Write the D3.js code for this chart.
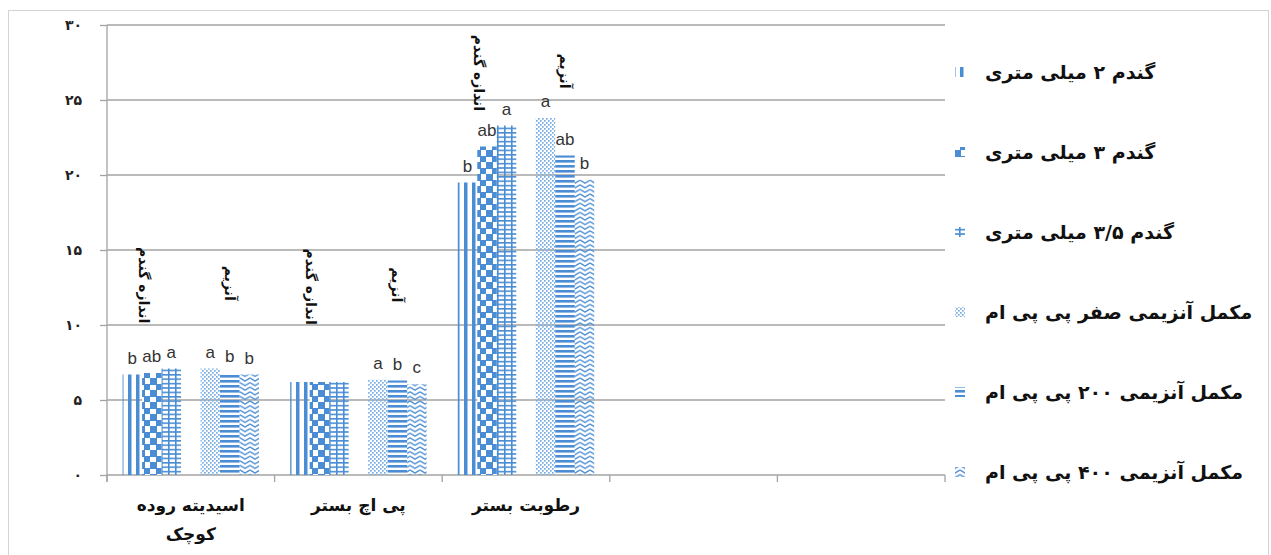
<!DOCTYPE html>
<html lang="fa">
<head>
<meta charset="utf-8">
<title>اثر اندازه گندم و مکمل آنزیمی</title>
<script src="https://cdn.jsdelivr.net/npm/d3@7/dist/d3.min.js"></script>
<style>
  html, body { margin: 0; padding: 0; background: #fff; }
  svg { display: block; }
</style>
</head>
<body>
<svg id="chart" width="1271" height="555"></svg>
<script>
// Categories on the x axis (the last two slots are left empty)
const categories = ["اسیدیته روده کوچک", "پی اچ بستر", "رطوبت بستر", "", ""];
const categoryLines = [["اسیدیته روده", "کوچک"], ["پی اچ بستر"], ["رطوبت بستر"], [], []];

// Series names
const seriesNames = [
  "گندم ۲ میلی متری",
  "گندم ۳ میلی متری",
  "گندم ۳/۵ میلی متری",
  "مکمل آنزیمی  صفر پی پی ام",
  "مکمل آنزیمی ۲۰۰ پی پی ام",
  "مکمل آنزیمی ۴۰۰ پی پی ام"
];

// Series values per category
const wheat2mm   = [6.7, 6.2, 19.5];
const wheat3mm   = [6.8, 6.2, 21.9];
const wheat35mm  = [7.1, 6.2, 23.3];
const enzyme0    = [7.1, 6.35, 23.8];
const enzyme200  = [6.8, 6.3, 21.3];
const enzyme400  = [6.7, 6.05, 19.7];

// Significance letters per series and category
const wheat2mmLetters  = ["b", "", "b"];
const wheat3mmLetters  = ["ab", "", "ab"];
const wheat35mmLetters = ["a", "", "a"];
const enzyme0Letters   = ["a", "a", "a"];
const enzyme200Letters = ["b", "b", "ab"];
const enzyme400Letters = ["b", "c", "b"];

// Y axis ticks
const yTicks = [0, 5, 10, 15, 20, 25, 30];
const yTickLabels = ["۰", "۵", "۱۰", "۱۵", "۲۰", "۲۵", "۳۰"];

// Group captions and the value level at which each category's captions sit
const groupCaptionText = ["اندازه گندم", "آنزیم"];
const groupCaptionLevel = [12.65, 12.55, 26.8];

const seriesValues = [wheat2mm, wheat3mm, wheat35mm, enzyme0, enzyme200, enzyme400];
const seriesLetters = [wheat2mmLetters, wheat3mmLetters, wheat35mmLetters,
                       enzyme0Letters, enzyme200Letters, enzyme400Letters];
// Slot order inside each cluster: an empty slot separates the two factors
const slots = ["s0", "s1", "s2", "gap", "s3", "s4", "s5"];

const svg = d3.select("#chart");
const plot = { left: 107, right: 945, top: 25, bottom: 475 };
const BLUE = "#4a8dd4";
const GRID = "#a3a3a3";
const FA_FONT = "'DejaVu Sans', sans-serif";

// Outer frame
svg.append("rect")
  .attr("x", 8.5).attr("y", 10.5)
  .attr("width", 1260).attr("height", 560)
  .attr("fill", "#fff").attr("stroke", "#d4d4d4").attr("stroke-width", 1);

// Fill patterns
const defs = svg.append("defs");
function pattern(id, w, h) {
  return defs.append("pattern").attr("id", id)
    .attr("patternUnits", "userSpaceOnUse")
    .attr("width", w).attr("height", h);
}
// vertical stripes
pattern("pat0", 8, 8).append("rect").attr("x", 0).attr("y", 0)
  .attr("width", 3.5).attr("height", 8).attr("fill", BLUE);
// checkerboard
{
  const p = pattern("pat1", 12, 12);
  p.append("rect").attr("width", 12).attr("height", 12).attr("fill", "#fff");
  p.append("rect").attr("x", 0).attr("y", 0).attr("width", 6).attr("height", 6).attr("fill", BLUE);
  p.append("rect").attr("x", 6).attr("y", 6).attr("width", 6).attr("height", 6).attr("fill", BLUE);
  p.append("rect").attr("x", 0).attr("y", 0).attr("width", 12).attr("height", 1).attr("fill", BLUE);
  p.append("rect").attr("x", 0).attr("y", 0).attr("width", 1).attr("height", 12).attr("fill", BLUE);
}
// grid (dense horizontals crossed by verticals)
{
  const p = pattern("pat2", 7, 4.4);
  p.append("rect").attr("x", 0).attr("y", 0).attr("width", 7).attr("height", 1.6).attr("fill", BLUE);
  p.append("rect").attr("x", 0).attr("y", 0).attr("width", 1.6).attr("height", 4.4).attr("fill", BLUE);
}
// light dots
{
  const p = pattern("pat3", 4, 4);
  p.append("rect").attr("x", 0).attr("y", 0).attr("width", 1.7).attr("height", 1.7).attr("fill", "#78aee4");
  p.append("rect").attr("x", 2).attr("y", 2).attr("width", 1.7).attr("height", 1.7).attr("fill", "#78aee4");
}
// horizontal stripes
pattern("pat4", 8, 5).append("rect").attr("x", 0).attr("y", 0)
  .attr("width", 8).attr("height", 2.6).attr("fill", BLUE);
// zigzag
pattern("pat5", 10, 4.6).append("path")
  .attr("d", "M0,0.8 L5,3.8 L10,0.8")
  .attr("fill", "none").attr("stroke", BLUE).attr("stroke-width", 1.3);

// Scales
const x0 = d3.scaleBand().domain(d3.range(categories.length))
  .range([plot.left, plot.right]).paddingInner(0).paddingOuter(0);
const x1 = d3.scaleBand().domain(slots)
  .range([0, x0.bandwidth()]).paddingInner(0).paddingOuter(0.8);
const y = d3.scaleLinear().domain([0, 30]).range([plot.bottom, plot.top]);

// Gridlines
svg.append("g").selectAll("line").data(yTicks.filter(t => t > 0)).join("line")
  .attr("x1", plot.left).attr("x2", plot.right)
  .attr("y1", d => y(d)).attr("y2", d => y(d))
  .attr("stroke", GRID).attr("stroke-width", 1.3);

// Y axis
const yAxis = d3.axisLeft(y).tickValues(yTicks)
  .tickFormat((d, i) => yTickLabels[i]).tickSize(7).tickPadding(18);
const gy = svg.append("g").attr("transform", `translate(${plot.left},0)`).call(yAxis);
gy.select(".domain").attr("stroke", GRID).attr("stroke-width", 1.3)
  .attr("d", `M0,${plot.top}V${plot.bottom + 7}`);
gy.selectAll(".tick line").attr("stroke", GRID).attr("stroke-width", 1.3);
gy.selectAll(".tick text")
  .attr("font-family", FA_FONT).attr("font-weight", "bold")
  .attr("font-size", 14).attr("fill", "#222");

// X axis (category boundaries as ticks)
const gx = svg.append("g").attr("transform", `translate(0,${plot.bottom})`);
gx.append("line").attr("x1", plot.left).attr("x2", plot.right)
  .attr("stroke", GRID).attr("stroke-width", 1.3);
gx.selectAll("line.tick").data(d3.range(categories.length + 1)).join("line")
  .attr("class", "tick")
  .attr("x1", i => i < categories.length ? x0(i) : plot.right)
  .attr("x2", i => i < categories.length ? x0(i) : plot.right)
  .attr("y1", 0).attr("y2", 7)
  .attr("stroke", GRID).attr("stroke-width", 1.3);

// Category labels
categoryLines.forEach((lines, ci) => {
  lines.forEach((ln, li) => {
    svg.append("text")
      .attr("x", x0(ci) + x0.bandwidth() / 2)
      .attr("y", 511 + li * 29)
      .attr("text-anchor", "middle")
      .attr("direction", "rtl")
      .attr("font-family", FA_FONT).attr("font-weight", "bold")
      .attr("font-size", 17).attr("fill", "#111")
      .text(ln);
  });
});

// Bars
const barData = [];
seriesValues.forEach((vals, si) => {
  vals.forEach((v, ci) => barData.push({ si, ci, v, letter: seriesLetters[si][ci] }));
});
const slotOf = si => slots.filter(s => s !== "gap")[si];

svg.append("g").selectAll("rect").data(barData).join("rect")
  .attr("x", d => x0(d.ci) + x1(slotOf(d.si)))
  .attr("y", d => y(d.v))
  .attr("width", x1.bandwidth())
  .attr("height", d => y(0) - y(d.v))
  .attr("fill", d => `url(#pat${d.si})`);

// Significance letters
svg.append("g").selectAll("text").data(barData.filter(d => d.letter)).join("text")
  .attr("x", d => x0(d.ci) + x1(slotOf(d.si)) + x1.bandwidth() / 2)
  .attr("y", d => y(d.v) - 11)
  .attr("text-anchor", "middle")
  .attr("font-family", "'Liberation Sans', Arial, sans-serif")
  .attr("font-size", 17).attr("fill", "#333")
  .text(d => d.letter);

// Rotated group captions above each factor's bars
groupCaptionLevel.forEach((lvl, ci) => {
  [["s1", -8], ["s4", 0]].forEach(([slot, dx], gi) => {
    const cx = x0(ci) + x1(slot) + x1.bandwidth() / 2 + dx;
    const cy = y(lvl) + (gi === 1 ? -2 : 0);
    svg.append("text")
      .attr("transform", `translate(${cx},${cy}) rotate(90)`)
      .attr("text-anchor", "middle")
      .attr("dominant-baseline", "central")
      .attr("direction", "rtl")
      .attr("font-family", FA_FONT).attr("font-weight", "bold")
      .attr("font-size", 14).attr("fill", "#111")
      .text(groupCaptionText[gi]);
  });
});

// Legend
const legendY = d3.scalePoint().domain(d3.range(seriesNames.length)).range([72, 472]);
const lg = svg.append("g");
seriesNames.forEach((name, si) => {
  const cy = legendY(si);
  lg.append("rect")
    .attr("x", 955).attr("y", cy - 5)
    .attr("width", 10).attr("height", 10)
    .attr("fill", `url(#pat${si})`);
  lg.append("text")
    .attr("x", 985).attr("y", cy)
    .attr("text-anchor", "end")
    .attr("direction", "rtl")
    .attr("dominant-baseline", "central")
    .attr("font-family", FA_FONT).attr("font-weight", "bold")
    .attr("font-size", 19).attr("fill", "#111")
    .text(name);
});
</script>
</body>
</html>
